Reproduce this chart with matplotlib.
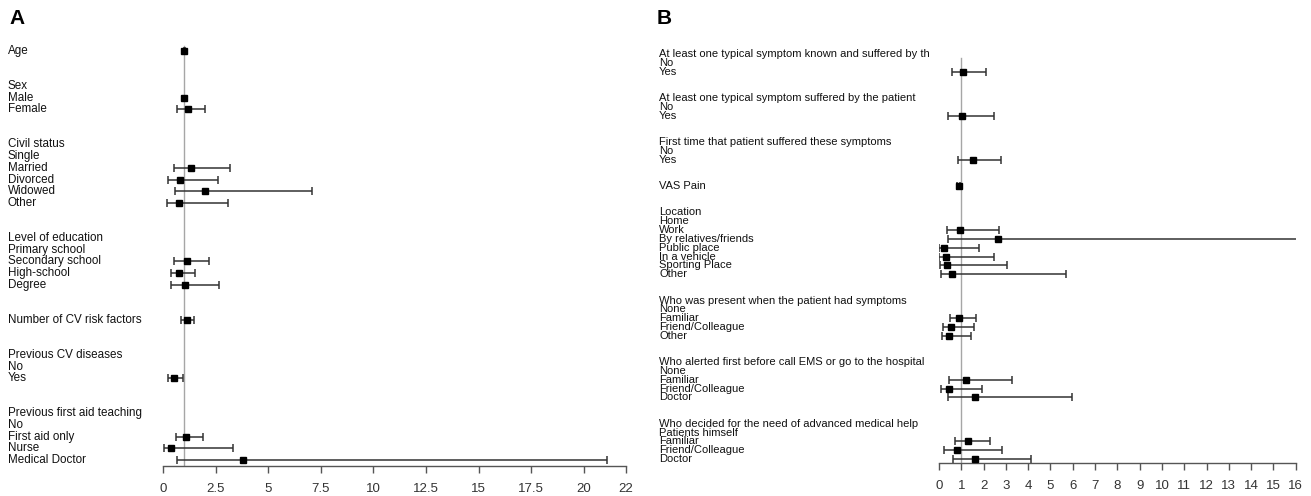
import matplotlib
matplotlib.use("Agg")
import matplotlib.pyplot as plt
from matplotlib.transforms import blended_transform_factory

plt.rcParams['font.family'] = ['Liberation Sans', 'DejaVu Sans']

# ---------------- Panel A data ----------------
groups_a = [
    ["Age"],
    ["Sex", "Male", "Female"],
    ["Civil status", "Single", "Married", "Divorced", "Widowed", "Other"],
    ["Level of education", "Primary school", "Secondary school", "High-school", "Degree"],
    ["Number of CV risk factors"],
    ["Previous CV diseases", "No", "Yes"],
    ["Previous first aid teaching", "No", "First aid only", "Nurse", "Medical Doctor"],
]
or_a = [1.01, None, 1.0, 1.17, None, None, 1.33, 0.79, 2.01, 0.76,
        None, None, 1.12, 0.78, 1.03, 1.14, None, None, 0.51,
        None, None, 1.09, 0.38, 3.79]
lo_a = [0.98, None, None, 0.65, None, None, 0.54, 0.25, 0.57, 0.17,
        None, None, 0.54, 0.38, 0.38, 0.86, None, None, 0.24,
        None, None, 0.62, 0.03, 0.65]
hi_a = [1.03, None, None, 2.01, None, None, 3.18, 2.63, 7.09, 3.07,
        None, None, 2.17, 1.50, 2.67, 1.49, None, None, 0.95,
        None, None, 1.92, 3.31, 21.08]
ticks_a = [0, 2.5, 5, 7.5, 10, 12.5, 15, 17.5, 20, 22]
ticklabels_a = ["0", "2.5", "5", "7.5", "10", "12.5", "15", "17.5", "20", "22"]

# ---------------- Panel B data ----------------
groups_b = [
    ["At least one typical symptom known and suffered by th", "No", "Yes"],
    ["At least one typical symptom suffered by the patient", "No", "Yes"],
    ["First time that patient suffered these symptoms", "No", "Yes"],
    ["VAS Pain"],
    ["Location", "Home", "Work", "By relatives/friends", "Public place",
     "In a vehicle", "Sporting Place", "Other"],
    ["Who was present when the patient had symptoms", "None", "Familiar",
     "Friend/Colleague", "Other"],
    ["Who alerted first before call EMS or go to the hospital", "None",
     "Familiar", "Friend/Colleague", "Doctor"],
    ["Who decided for the need of advanced medical help", "Patients himself",
     "Familiar", "Friend/Colleague", "Doctor"],
]
or_b = [None, None, 1.09, None, None, 1.02, None, None, 1.54, 0.88,
        None, None, 0.96, 2.65, 0.22, 0.30, 0.36, 0.60,
        None, None, 0.90, 0.52, 0.43,
        None, None, 1.21, 0.46, 1.60,
        None, None, 1.29, 0.82, 1.63]
lo_b = [None, None, 0.57, None, None, 0.40, None, None, 0.85, 0.82,
        None, None, 0.34, 0.40, 0.02, 0.02, 0.04, 0.09,
        None, None, 0.51, 0.17, 0.13,
        None, None, 0.43, 0.09, 0.40,
        None, None, 0.73, 0.24, 0.63]
hi_b = [None, None, 2.09, None, None, 2.45, None, None, 2.80, 0.95,
        None, None, 2.68, 16.09, 1.79, 2.48, 3.05, 5.71,
        None, None, 1.67, 1.58, 1.45,
        None, None, 3.27, 1.94, 5.95,
        None, None, 2.30, 2.83, 4.13]
ticks_b = list(range(0, 17))
ticklabels_b = [str(t) for t in ticks_b]

W, H = 1311, 496
fig = plt.figure(figsize=(W / 100, H / 100), dpi=100)


def layout(groups, gap=2):
    labels, rows = [], []
    r = 0
    for gi, g in enumerate(groups):
        if gi > 0:
            r += gap
        for lab in g:
            labels.append(lab)
            rows.append(r)
            r += 1
    return labels, rows


def panel(groups, ors, los, his, ticks, ticklabels, xmax,
          x0px, x1px, row0px, rowNpx, axispx, textpx, letter, letterpx,
          msize, capsize, refline_top, fsize):
    labels, rows = layout(groups)
    nrow = rows[-1]
    sp = (rowNpx - row0px) / nrow
    ybot = nrow + (axispx - rowNpx) / sp
    ytop = -1.0
    top_px = axispx - (ybot - ytop) * sp
    ax = fig.add_axes([x0px / W, 1 - axispx / H, (x1px - x0px) / W,
                       (axispx - top_px) / H])
    ax.set_xlim(0, xmax)
    ax.set_ylim(ybot, ytop)
    for s in ["top", "right", "left"]:
        ax.spines[s].set_visible(False)
    ax.spines["bottom"].set_color("#555555")
    ax.spines["bottom"].set_linewidth(1.0)
    ax.set_yticks([])
    ax.set_xticks(ticks)
    ax.set_xticklabels(ticklabels)
    ax.tick_params(axis="x", length=5, width=1.0, color="#555555",
                   labelsize=9.5, labelcolor="#333333", pad=7)
    ax.patch.set_alpha(0)

    # reference line
    ax.plot([1, 1], [refline_top, ybot], color="#a6a6a6", lw=1.0, zorder=1)

    tr = blended_transform_factory(fig.transFigure, ax.transData)
    for lab, r in zip(labels, rows):
        ax.text(textpx / W, r, lab, transform=tr, ha="left", va="center",
                fontsize=fsize, color="#111111")

    for r, o, lo, hi in zip(rows, ors, los, his):
        if o is None:
            continue
        if lo is not None:
            ax.errorbar([o], [r], xerr=[[o - lo], [hi - o]], fmt="none",
                        ecolor="#333333", elinewidth=1.1, capsize=capsize,
                        capthick=1.1, zorder=2)
        ax.plot([o], [r], marker="s", color="black", markersize=msize,
                linestyle="none", zorder=3)
    fig.text(letterpx / W, 1 - 18 / H, letter, fontsize=15,
             fontweight="bold", ha="left", va="center")
    return ax


panel(groups_a, or_a, lo_a, hi_a, ticks_a, ticklabels_a, 22,
      163, 626, 51, 460, 466, 8, "A", 9, 5.0, 3.2, -0.45, 8.4)
panel(groups_b, or_b, lo_b, hi_b, ticks_b, ticklabels_b, 16,
      939, 1295.7, 54, 459, 463, 659, "B", 657, 4.0, 2.6, 0.45, 8.0)

fig.savefig("out.png", dpi=100)
